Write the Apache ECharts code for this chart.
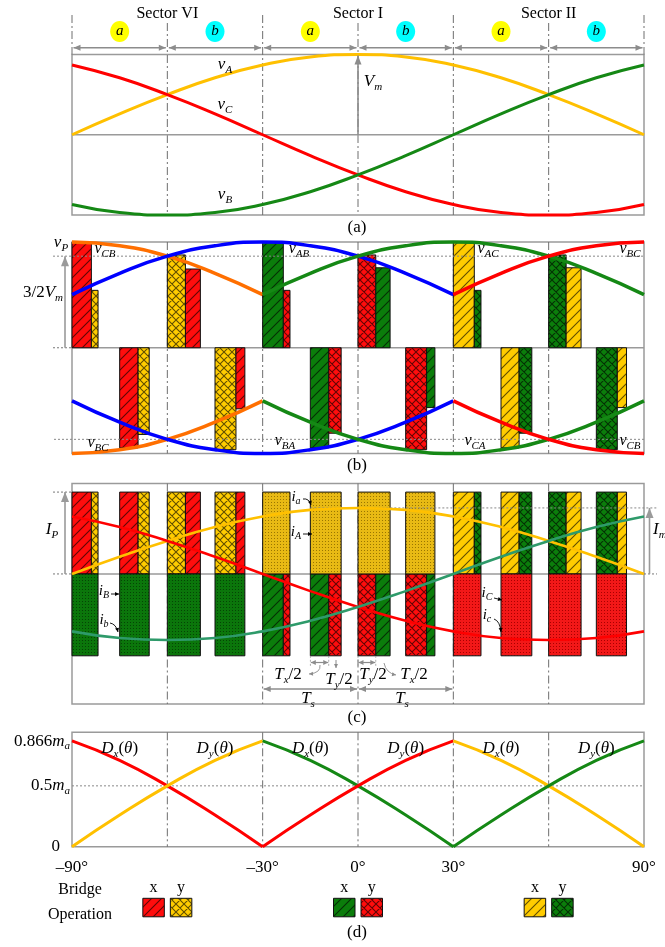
<!DOCTYPE html>
<html><head><meta charset="utf-8"><title>SVM sectors</title>
<script src="https://cdn.jsdelivr.net/npm/echarts@6/dist/echarts.min.js"></script>
<style>html,body{margin:0;padding:0;background:#fff;}#chart{width:665px;height:947px;}</style>
</head><body><div id="chart"></div>
<script>
// ================= DATA =================
const thetaDeg = [-90,-75,-60,-45,-30,-15,0,15,30,45,60,75,90];
const sectorNames = ['Sector VI','Sector I','Sector II'];
const sectorCenters = [-60,0,60];
const subSectorNames = ['a','b','a','b','a','b'];
const subSectorBounds = [-90,-60,-30,0,30,60,90];

// (a) phase voltages (per unit of Vm)
const vA = [0.00,0.26,0.50,0.71,0.87,0.97,1.00,0.97,0.87,0.71,0.50,0.26,0.00];
const vB = [-0.87,-0.97,-1.00,-0.97,-0.87,-0.71,-0.50,-0.26,0.00,0.26,0.50,0.71,0.87];
const vC = [0.87,0.71,0.50,0.26,0.00,-0.26,-0.50,-0.71,-0.87,-0.97,-1.00,-0.97,-0.87];

// (b) line voltages (per unit of Vm)
const vCBup = [1.73,1.67,1.50,1.22,0.87];                        // θ -90..-30
const vABup = [0.87,1.22,1.50,1.67,1.73,1.67,1.50,1.22,0.87];    // θ -90..30
const vACup = [0.87,1.22,1.50,1.67,1.73,1.67,1.50,1.22,0.87];    // θ -30..90
const vBCup = [0.87,1.22,1.50,1.67,1.73];                        // θ 30..90
const vBClo = [-1.73,-1.67,-1.50,-1.22,-0.87];                   // θ -90..-30
const vBAlo = [-0.87,-1.22,-1.50,-1.67,-1.73,-1.67,-1.50,-1.22,-0.87]; // θ -90..30
const vCAlo = [-0.87,-1.22,-1.50,-1.67,-1.73,-1.67,-1.50,-1.22,-0.87]; // θ -30..90
const vCBlo = [-0.87,-1.22,-1.50,-1.67,-1.73];                   // θ 30..90

// switching slots (degrees)
const slotStart       = [-90,-75,-60,-45,-30,-15,0,15,30,45,60,75];
const slotFirstBridge = ['x','x','y','y','x','x','y','y','x','x','y','y'];
const slotFirstWidth  = [6.1,5.8,5.7,6.6,6.5,5.8,5.6,6.6,6.6,5.7,5.5,6.6];
const slotSecondWidth = [2.1,3.5,4.7,2.8,2.1,3.9,4.5,2.6,2.1,4.0,4.7,2.9];
const sectorXPhase = ['C','B','A'];
const sectorYPhase = ['A','C','B'];
const bFirstLevel  = [1.73,-1.64,1.52,-1.67,1.73,-1.64,1.52,-1.67,1.73,-1.64,1.52,-1.67];
const bSecondLevel = [0.94,-1.42,1.29,-1.00,0.94,-1.40,1.31,-0.98,0.94,-1.40,1.31,-0.98];

// (c) currents (per unit of Im)
const iP = 1.24;
const sectorCommonPhase = ['B','A','C'];
const sectorCommonSign  = [-1,1,-1];
const ia = [0.00,0.26,0.50,0.71,0.87,0.97,1.00,0.97,0.87,0.71,0.50,0.26,0.00];
const ib = [-0.87,-0.97,-1.00,-0.97,-0.87,-0.71,-0.50,-0.26,0.00,0.26,0.50,0.71,0.87];
const ic = [0.87,0.71,0.50,0.26,0.00,-0.26,-0.50,-0.71,-0.87,-0.97,-1.00,-0.97,-0.87];

// (d) duty ratios (per unit of ma)
const dVIx  = [0.87,0.71,0.50,0.26,0.00];
const dVIy  = [0.00,0.26,0.50,0.71,0.87];
const dIx   = [0.87,0.71,0.50,0.26,0.00];
const dIy   = [0.00,0.26,0.50,0.71,0.87];
const dIIx  = [0.87,0.71,0.50,0.26,0.00];
const dIIy  = [0.00,0.26,0.50,0.71,0.87];
const dTickValues = [0, 0.5, 0.866];
const dTickLabels = [['0',''],['0.5m','a'],['0.866m','a']];
const xTickValues = [-90,-30,0,30,90];
const xTickLabels = ['\u201390\u00b0','\u201330\u00b0','0\u00b0','30\u00b0','90\u00b0'];
const bridgeLabels = ['x','y'];

// ================= STYLE =================
const FONT = '"Liberation Serif","Times New Roman",serif';
const GRAY = '#9a9a9a', DIV = '#6e6e6e', ARW = '#8c8c8c';
const LINE_COL = {A:'#FFC000', B:'#158815', C:'#FF0000', blue:'#0000FF', orange:'#FF6F00', teal:'#2E9A6A'};
const BAR_COL = {A:'#FFCC00', B:'#0B7D0B', C:'#FF0D0D'};
const DOT_COL = {A:['#E8BA14','#9A7600'], B:['#0B760B','#054405'], C:['#F21818','#A80000']};

function makePattern(base, kind){
  const s = kind === 'hatch' ? 10 : 8;
  const c = document.createElement('canvas'); c.width = s; c.height = s;
  const g = c.getContext('2d');
  g.fillStyle = base; g.fillRect(0,0,s,s);
  g.strokeStyle = 'rgba(0,0,0,0.62)'; g.lineWidth = 1.1;
  g.beginPath();
  g.moveTo(-2,s+2); g.lineTo(s+2,-2);
  g.moveTo(-2,2); g.lineTo(2,-2);
  g.moveTo(s-2,s+2); g.lineTo(s+2,s-2);
  if (kind === 'cross'){
    g.moveTo(-2,-2); g.lineTo(s+2,s+2);
    g.moveTo(s-2,-2); g.lineTo(s+2,2);
    g.moveTo(-2,s-2); g.lineTo(2,s+2);
  }
  g.stroke();
  return {image:c, repeat:'repeat'};
}
function makeDots(base, ink){
  const c = document.createElement('canvas'); c.width = 3; c.height = 3;
  const g = c.getContext('2d');
  g.fillStyle = base; g.fillRect(0,0,3,3);
  g.fillStyle = ink; g.fillRect(1,1,1,1);
  return {image:c, repeat:'repeat'};
}
const PAT = {};
['A','B','C'].forEach(p => {
  PAT[p+'x'] = makePattern(BAR_COL[p],'hatch');
  PAT[p+'y'] = makePattern(BAR_COL[p],'cross');
  PAT[p+'d'] = makeDots(DOT_COL[p][0], DOT_COL[p][1]);
});

// ================= BAR TABLES =================
const bBars = [], cBars = [];
slotStart.forEach((t0,i) => {
  const s = Math.floor(i/4);
  const b1 = slotFirstBridge[i], b2 = b1 === 'x' ? 'y' : 'x';
  const ph = b => b === 'x' ? sectorXPhase[s] : sectorYPhase[s];
  const t1 = t0 + slotFirstWidth[i], t2 = t1 + slotSecondWidth[i];
  bBars.push({value:[t0,t1,0,bFirstLevel[i]], key:ph(b1)+b1});
  bBars.push({value:[t1,t2,0,bSecondLevel[i]], key:ph(b2)+b2});
  const sg = -sectorCommonSign[s];
  cBars.push({value:[t0,t1,0,sg*iP], key:ph(b1)+b1});
  cBars.push({value:[t1,t2,0,sg*iP], key:ph(b2)+b2});
  cBars.push({value:[t0,t2,0,-sg*iP], key:sectorCommonPhase[s]+'d'});
});

function barSeries(g, items){
  return {type:'custom', xAxisIndex:g, yAxisIndex:g, clip:false, z:3, silent:true,
    data: items.map(it => it.value), encode:{x:[0,1], y:[2,3]},
    renderItem:(params, api) => {
      const it = items[params.dataIndex];
      const p0 = api.coord([api.value(0), api.value(2)]);
      const p1 = api.coord([api.value(1), api.value(3)]);
      return {type:'rect',
        shape:{x:p0[0], y:Math.min(p0[1],p1[1]), width:p1[0]-p0[0], height:Math.abs(p1[1]-p0[1])},
        style:{fill:PAT[it.key], stroke:'#111', lineWidth:1}};
    }};
}
function L(g, xs, ys, color, w){
  return {type:'line', xAxisIndex:g, yAxisIndex:g, data:xs.map((x,i)=>[x,ys[i]]), smooth:true,
    symbol:'none', clip:false, silent:true, z:5, lineStyle:{color, width:w||3}};
}
const seg = (a,b) => thetaDeg.slice(a,b);

// ================= CHART =================
const gridBoxes = [[54.5,160.5],[242,211.5],[483.5,220.5],[732.3,114.4]];
const yRanges = [[-1,1],[-1.732,1.732],[-1.97,1.37],[0,0.94]];
const chart = echarts.init(document.getElementById('chart'), null, {renderer:'canvas', width:665, height:947});
const option = {
  animation:false, backgroundColor:'#ffffff',
  grid: gridBoxes.map(([top,h]) => ({left:72, width:572, top, height:h, show:true,
    borderColor:GRAY, borderWidth:1.5, backgroundColor:'rgba(0,0,0,0)', outerBoundsMode:'none'})),
  xAxis: gridBoxes.map((_,i) => ({gridIndex:i, type:'value', min:-90, max:90, interval:30,
    axisLine:{show:false}, axisTick:{show:false}, splitLine:{show:false},
    axisLabel: i === 3 ? {show:true, margin:12, color:'#000', fontSize:17, fontFamily:FONT,
      showMinLabel:true, showMaxLabel:true, hideOverlap:false,
      formatter: v => { const k = xTickValues.indexOf(v); return k < 0 ? '' : xTickLabels[k]; }} : {show:false}})),
  yAxis: yRanges.map((r,i) => ({gridIndex:i, type:'value', min:r[0], max:r[1], show:false, splitLine:{show:false}})),
  series: [
    barSeries(1,bBars), barSeries(2,cBars),
    L(0,thetaDeg,vA,LINE_COL.A), L(0,thetaDeg,vC,LINE_COL.C), L(0,thetaDeg,vB,LINE_COL.B),
    L(1,seg(0,5),vCBup,LINE_COL.orange,3.5), L(1,seg(0,9),vABup,LINE_COL.blue,3.5),
    L(1,seg(4,13),vACup,LINE_COL.B,3.5), L(1,seg(8,13),vBCup,LINE_COL.C,3.5),
    L(1,seg(0,5),vBClo,LINE_COL.orange,3.5), L(1,seg(0,9),vBAlo,LINE_COL.blue,3.5),
    L(1,seg(4,13),vCAlo,LINE_COL.B,3.5), L(1,seg(8,13),vCBlo,LINE_COL.C,3.5),
    L(2,thetaDeg,ia,LINE_COL.A,2.6), L(2,thetaDeg,ic,LINE_COL.C,2.6), L(2,thetaDeg,ib,LINE_COL.teal,2.6),
    L(3,seg(0,5),dVIx,LINE_COL.C), L(3,seg(0,5),dVIy,LINE_COL.A),
    L(3,seg(4,9),dIx,LINE_COL.B), L(3,seg(4,9),dIy,LINE_COL.C),
    L(3,seg(8,13),dIIx,LINE_COL.A), L(3,seg(8,13),dIIy,LINE_COL.B)
  ]
};
chart.setOption(option);

// ================= DECORATIONS =================
const P = (g,x,y) => chart.convertToPixel({gridIndex:g}, [x,y]);
const mctx = document.createElement('canvas').getContext('2d');
const fontStr = (size, it) => (it ? 'italic ' : '') + size + 'px ' + FONT;
const tw = (t, size, it) => { mctx.font = fontStr(size,it); return mctx.measureText(t).width; };
const G = [];
const add = (...els) => els.forEach(e => Array.isArray(e) ? G.push(...e) : G.push(e));
function ln(x1,y1,x2,y2,color,w,dash,z){
  const st = {stroke:color, lineWidth:w};
  if (dash) st.lineDash = dash;
  return {type:'line', silent:true, z:z||20, shape:{x1,y1,x2,y2}, style:st};
}
function head(x2,y2,x1,y1,color,len,hw){
  const dx = x2-x1, dy = y2-y1, Ln = Math.hypot(dx,dy), ux = dx/Ln, uy = dy/Ln;
  const bx = x2-ux*len, by = y2-uy*len;
  return {type:'polygon', silent:true, z:41, shape:{points:[[x2,y2],[bx-uy*hw,by+ux*hw],[bx+uy*hw,by-ux*hw]]}, style:{fill:color}};
}
function arrow(x1,y1,x2,y2,color,w,both,len,hw){
  len = len || 7; hw = hw || 3;
  const out = [ln(x1,y1,x2,y2,color,w,null,40), head(x2,y2,x1,y1,color,len,hw)];
  if (both) out.push(head(x1,y1,x2,y2,color,len,hw));
  return out;
}
function curveArrow(x1,y1,cx,cy,x2,y2,color){
  return [{type:'bezierCurve', silent:true, z:40, shape:{x1,y1,x2,y2,cpx1:cx,cpy1:cy}, style:{stroke:color, lineWidth:0.9, fill:null}},
          head(x2,y2,cx,cy,color,4,2)];
}
function txt(x,y,text,size,it,align){
  align = align || 'left';
  return {type:'text', silent:true, z:60, style:{text, x, y, font:fontStr(size,it), fill:'#000',
    align, textAlign:align, verticalAlign:'middle', textVerticalAlign:'middle'}};
}
// parts: [text, size, italic, dy]
function rich(cx, cy, parts, align){
  const ws = parts.map(p => tw(p[0],p[1],p[2]));
  const total = ws.reduce((a,b) => a+b, 0);
  let x = align === 'left' ? cx : align === 'right' ? cx-total : cx-total/2;
  const out = [];
  parts.forEach((p,i) => { out.push(txt(x, cy+(p[3]||0), p[0], p[1], p[2], 'left')); x += ws[i]; });
  return out;
}
const vlab = (cx,cy,sub,size) => rich(cx,cy,[['v',size||17,true,-1],[sub,11,true,4]]);
const ilab = (cx,cy,sub) => rich(cx,cy,[['i',15,true,-1],[sub,10,true,3]]);
const DASHDOT = [8,3,2,3];

const Lx = P(0,-90,0)[0], Rx = P(0,90,0)[0];

// ---- panel (a)
{
  const yTop = P(0,0,1)[1], yBot = P(0,0,-1)[1], y0 = P(0,0,0)[1];
  add(ln(Lx,y0,Rx,y0,GRAY,1.5,null,2));
  subSectorBounds.forEach(b => {
    const x = P(0,b,0)[0];
    const edge = (b === -90 || b === 90);
    const under = sectorCenters.indexOf(b) >= 0;
    add(ln(x, under ? 23 : 15, x, edge ? yTop : yBot, DIV, 1, DASHDOT, 1));
  });
  sectorNames.forEach((n,k) => add(txt(P(0,sectorCenters[k],0)[0], 14, n, 16, false, 'center')));
  subSectorNames.forEach((n,k) => {
    const cx = (P(0,subSectorBounds[k],0)[0] + P(0,subSectorBounds[k+1],0)[0]) / 2;
    add({type:'ellipse', silent:true, z:30, shape:{cx, cy:31.5, rx:9.5, ry:10.5}, style:{fill: n === 'a' ? '#FFFF00' : '#00FFFF'}});
    add(txt(cx, 31.5, n, 15, true, 'center'));
    const x1 = P(0,subSectorBounds[k],0)[0] + 1.5, x2 = P(0,subSectorBounds[k+1],0)[0] - 1.5;
    add(arrow(x1, 47.7, x2, 47.7, ARW, 1.5, true, 7, 3));
  });
  const xc = P(0,0,0)[0];
  add(arrow(xc, y0, xc, yTop+1, ARW, 1.6, false, 9, 3.5));
  add(rich(373, 82, [['V',17,true,0],['m',11,true,5]]));
  add(vlab(225, 66, 'A')); add(vlab(225, 106, 'C')); add(vlab(225, 196, 'B'));
  add(txt(357, 228, '(a)', 17, false, 'center'));
}
// ---- panel (b)
{
  const yTop = P(1,0,1.732)[1], yBot = P(1,0,-1.732)[1], y0 = P(1,0,0)[1];
  const y15 = P(1,0,1.5)[1], yn15 = P(1,0,-1.5)[1];
  add(ln(Lx,y0,Rx,y0,GRAY,1.5,null,2));
  add(ln(53,y0,Lx,y0,'#777',1,[2,2]));
  add(ln(53,y15,Rx,y15,'#888',1,[2,2],4));
  add(ln(54,yn15,Rx,yn15,'#888',1,[2,2],4));
  subSectorBounds.slice(1,6).forEach(b => { const x = P(1,b,0)[0]; add(ln(x,yTop,x,yBot,DIV,1,DASHDOT,1)); });
  add(arrow(65, y0, 65, y15, GRAY, 1.6, false, 10, 4));
  add(rich(43, 293, [['3/2',17,false,0],['V',17,true,0],['m',11,true,5]]));
  add(rich(61, 244, [['v',17,true,-1],['P',11,true,4]]));
  add(vlab(105,250,'CB',16)); add(vlab(299,250,'AB',16)); add(vlab(488,250,'AC',16)); add(vlab(630,250,'BC',16));
  add(vlab(98,444,'BC',16)); add(vlab(285,442,'BA',16)); add(vlab(475,442,'CA',16)); add(vlab(630,442,'CB',16));
  add(txt(357, 466, '(b)', 17, false, 'center'));
}
// ---- panel (c)
{
  const yTop = P(2,0,1.37)[1], yBot = P(2,0,-1.97)[1], y0 = P(2,0,0)[1];
  const yIP = P(2,0,iP)[1], yIm = P(2,0,1)[1], yBar = P(2,0,-iP)[1];
  add(ln(Lx,y0,Rx,y0,GRAY,1.5,null,2));
  add(ln(53,y0,Lx,y0,'#777',1,[2,2])); add(ln(Rx,y0,657,y0,'#777',1,[2,2]));
  add(ln(53,yIP,Lx,yIP,'#777',1,[2,2]));
  add(ln(P(2,-15,0)[0],yIm,657,yIm,'#888',1,[2,2],4));
  subSectorBounds.slice(1,6).forEach(b => { const x = P(2,b,0)[0]; add(ln(x,yTop,x,yBot,DIV,1,DASHDOT,1)); });
  add(arrow(65, y0, 65, yIP, GRAY, 1.6, false, 10, 4));
  add(arrow(649.5, y0, 649.5, yIm, GRAY, 1.6, false, 10, 4));
  add(rich(52, 530, [['I',17,true,0],['P',11,true,5]]));
  add(rich(653, 530, [['I',17,true,0],['m',11,true,5]], 'left'));
  add(ilab(296,498,'a')); add(curveArrow(303,499,309,498,311,505,'#000'));
  add(ilab(296,533,'A')); add(arrow(303,534,312,534,'#000',0.9,false,4,2));
  add(ilab(104,592,'B')); add(arrow(111,594,119,594,'#000',0.9,false,4,2));
  add(ilab(104,621,'b')); add(curveArrow(110,623,116,624,118,632,'#000'));
  add(ilab(487,594,'C')); add(arrow(494,598,502,600,'#000',0.9,false,4,2));
  add(ilab(487,616,'c')); add(curveArrow(494,619,500,621,501,632,'#000'));
  // Tx/2, Ty/2 and Ts annotations
  const yT = 662.5;
  [[5],[6]].forEach(([k]) => {
    const xa = P(2,slotStart[k],0)[0], xb = P(2,slotStart[k]+slotFirstWidth[k],0)[0];
    add(ln(xa,yBar,xa,yT+5,'#999',0.8,[2,2])); add(ln(xb,yBar,xb,yT+5,'#999',0.8,[2,2]));
    add(arrow(xa+0.5,yT,xb-0.5,yT,ARW,1.2,true,5,2.5));
  });
  add(curveArrow(320,665,321,673,309,674,ARW));
  add(arrow(336,660,336,668,ARW,1,false,4,2));
  add(curveArrow(384,663,386,673,396,675,ARW));
  add(rich(288,675,[['T',17,true,0],['x',11,true,5],['/2',17,false,0]]));
  add(rich(339,680,[['T',17,true,0],['y',11,true,5],['/2',17,false,0]]));
  add(rich(373,675,[['T',17,true,0],['y',11,true,5],['/2',17,false,0]]));
  add(rich(414,675,[['T',17,true,0],['x',11,true,5],['/2',17,false,0]]));
  const xs1 = P(2,-30,0)[0], xs2 = P(2,0,0)[0], xs3 = P(2,30,0)[0];
  add(arrow(xs1+1,689,xs2-1,689,ARW,1.4,true,7,3));
  add(arrow(xs2+1,689,xs3-1,689,ARW,1.4,true,7,3));
  add(rich(308,699,[['T',17,true,0],['s',11,true,5]]));
  add(rich(402,699,[['T',17,true,0],['s',11,true,5]]));
  add(txt(357, 718, '(c)', 17, false, 'center'));
}
// ---- panel (d)
{
  const yTop = P(3,0,0.94)[1], yBot = P(3,0,0)[1];
  const y05 = P(3,0,0.5)[1];
  add(ln(Lx,y05,Rx,y05,'#888',1,[2,2],4));
  subSectorBounds.slice(1,6).forEach(b => { const x = P(3,b,0)[0]; add(ln(x,yTop,x,yBot,DIV,1,DASHDOT,1)); });
  dTickValues.forEach((v,k) => {
    const y = P(3,-90,v)[1];
    const lab = dTickLabels[k];
    if (lab[1]) add(rich(70, y, [[lab[0].slice(0,-1),17,false,0],['m',17,true,0],[lab[1],11,true,5]], 'right'));
    else add(txt(60, y, lab[0], 17, false, 'right'));
  });
  subSectorBounds.slice(0,6).forEach((b,k) => {
    const cx = (P(3,b,0)[0] + P(3,subSectorBounds[k+1],0)[0]) / 2;
    add(rich(cx, 749, [['D',17,true,0],[k%2 ? 'y' : 'x',11,true,5],['(',17,false,0],['\u03b8',17,true,0],[')',17,false,0]]));
  });
  // Bridge operation legend
  add(txt(80, 890, 'Bridge', 16, false, 'center'));
  add(txt(80, 915, 'Operation', 16, false, 'center'));
  sectorCenters.forEach((c,s) => {
    const cx = P(3,c,0)[0];
    [[cx-24.5, sectorXPhase[s]+'x'], [cx+3, sectorYPhase[s]+'y']].forEach(([x,key],j) => {
      add({type:'rect', silent:true, z:30, shape:{x, y:898.3, width:21.5, height:18.5}, style:{fill:PAT[key], stroke:'#111', lineWidth:1}});
      add(txt(x+10.75, 888, bridgeLabels[j], 16, false, 'center'));
    });
  });
  add(txt(357, 933, '(d)', 17, false, 'center'));
}
chart.setOption({graphic:{elements:G}});
</script></body></html>
